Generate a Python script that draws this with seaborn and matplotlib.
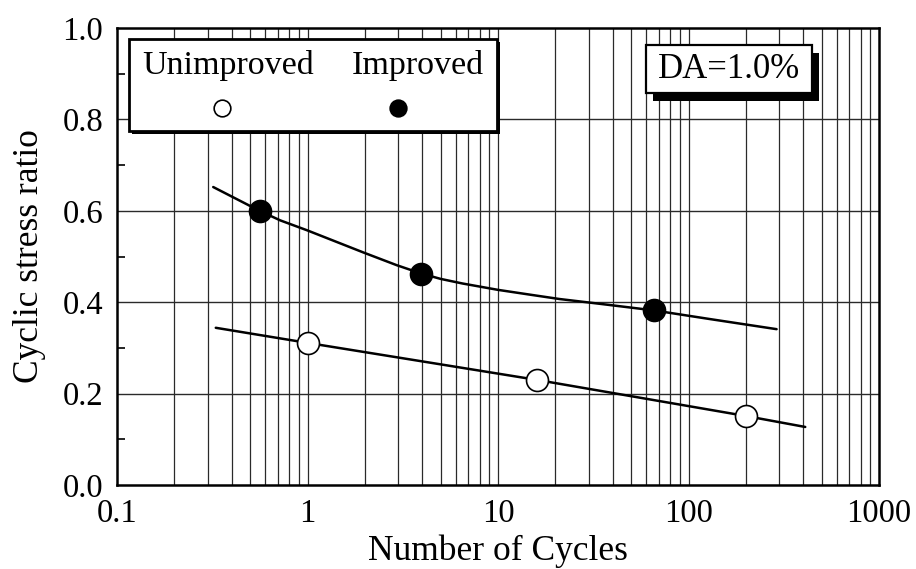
import matplotlib
matplotlib.use("Agg")
import matplotlib.pyplot as plt
from matplotlib.patches import Rectangle
import numpy as np
import pandas as pd
import seaborn as sns

# ---- data ----
imp_cycles = [0.56, 3.94, 66]
imp_csr = [0.600, 0.462, 0.383]
unimp_cycles = [1.0, 16, 200]
unimp_csr = [0.311, 0.230, 0.151]

# fitted curves as drawn in the reference (read at several points)
imp_curve_x = [0.32, 0.56, 0.72, 1.0, 1.4, 1.96, 2.94, 3.94, 5.0, 6.5, 10, 15, 21, 35, 66, 130, 290]
imp_curve_y = [0.652, 0.600, 0.579, 0.557, 0.533, 0.509, 0.481, 0.463, 0.451, 0.441, 0.427,
               0.416, 0.407, 0.396, 0.382, 0.363, 0.341]
unimp_curve_x = [0.33, 1.0, 16, 200, 410]
unimp_curve_y = [0.344, 0.311, 0.230, 0.151, 0.127]

x_ticks = [0.1, 1, 10, 100, 1000]
x_ticklabels = ["0.1", "1", "10", "100", "1000"]
y_ticks = [0.0, 0.2, 0.4, 0.6, 0.8, 1.0]
y_ticklabels = ["0.0", "0.2", "0.4", "0.6", "0.8", "1.0"]

sns.set_style("white")
plt.rcParams["font.family"] = ["Liberation Serif", "DejaVu Serif"]
plt.rcParams["text.color"] = "black"
plt.rcParams["axes.labelcolor"] = "black"
plt.rcParams["xtick.color"] = "black"
plt.rcParams["ytick.color"] = "black"

fig = plt.figure(figsize=(9.16, 5.69), dpi=100)
ax = fig.add_axes([117 / 916, 1 - 485 / 569, 762 / 916, 457 / 569])

ax.set_xscale("log")
ax.set_xlim(0.1, 1000)
ax.set_ylim(0.0, 1.0)

# grid
for dec in [0.1, 1, 10, 100]:
    for m in range(1, 10):
        v = dec * m
        if 0.1 < v < 1000:
            ax.axvline(v, color="#2a2a2a", lw=0.9, zorder=0)
for yv in [0.2, 0.4, 0.6, 0.8]:
    ax.axhline(yv, color="#2a2a2a", lw=1.0, zorder=0)

# curves
df_imp_c = pd.DataFrame({"N": imp_curve_x, "CSR": imp_curve_y})
df_un_c = pd.DataFrame({"N": unimp_curve_x, "CSR": unimp_curve_y})
sns.lineplot(data=df_imp_c, x="N", y="CSR", ax=ax, color="black", lw=1.8, sort=True, zorder=3)
sns.lineplot(data=df_un_c, x="N", y="CSR", ax=ax, color="black", lw=1.8, sort=True, zorder=3)

# points
df_imp = pd.DataFrame({"N": imp_cycles, "CSR": imp_csr})
df_un = pd.DataFrame({"N": unimp_cycles, "CSR": unimp_csr})
sns.scatterplot(data=df_imp, x="N", y="CSR", ax=ax, color="black", edgecolor="black",
                s=250, linewidth=1.2, zorder=5)
sns.scatterplot(data=df_un, x="N", y="CSR", ax=ax, color="white", edgecolor="black",
                s=250, linewidth=1.2, zorder=5)

# ticks
ax.set_xticks(x_ticks)
ax.set_xticklabels(x_ticklabels)
ax.set_yticks(y_ticks)
ax.set_yticklabels(y_ticklabels)
ax.set_yticks([0.1, 0.3, 0.5, 0.7, 0.9], minor=True)
ax.xaxis.set_minor_locator(matplotlib.ticker.NullLocator())
ax.tick_params(axis="both", which="major", labelsize=23.5, direction="in", length=6, width=1.2,
               colors="black", labelcolor="black")
ax.tick_params(axis="y", which="major", pad=10)
ax.tick_params(axis="y", which="minor", direction="in", length=6, width=1.2, left=True)
ax.tick_params(axis="x", which="major", length=0, pad=10)
for s in ax.spines.values():
    s.set_color("black")
    s.set_linewidth(1.8)

ax.set_xlabel("Number of Cycles", fontsize=25.5, labelpad=4, color="black")
ax.set_ylabel("Cyclic stress ratio", fontsize=25.5, labelpad=12, color="black")

# legend box (custom, labels above markers)
ax.add_patch(Rectangle((0.0157 + 0.004, 0.7746 - 0.007), 0.4830, 0.2014, transform=ax.transAxes,
                       facecolor="black", edgecolor="black", lw=0, zorder=6))
ax.add_patch(Rectangle((0.0157, 0.7746), 0.4830, 0.2014, transform=ax.transAxes,
                       facecolor="white", edgecolor="black", lw=2.0, zorder=7))
ax.text(0.146, 0.918, "Unimproved", transform=ax.transAxes, ha="center", va="center",
        fontsize=24.5, zorder=8, color="black")
ax.text(0.395, 0.918, "Improved", transform=ax.transAxes, ha="center", va="center",
        fontsize=24.5, zorder=8, color="black")
ax.plot([0.138], [0.825], transform=ax.transAxes, marker="o", ms=12, mfc="white",
        mec="black", mew=1.2, zorder=8, clip_on=False)
ax.plot([0.369], [0.825], transform=ax.transAxes, marker="o", ms=12, mfc="black",
        mec="black", mew=1.2, zorder=8, clip_on=False)

# DA box with shadow
ax.add_patch(Rectangle((0.694 + 0.009, 0.858 - 0.017), 0.218, 0.105, transform=ax.transAxes,
                       facecolor="black", edgecolor="black", lw=0, zorder=6))
ax.add_patch(Rectangle((0.694, 0.858), 0.218, 0.105, transform=ax.transAxes,
                       facecolor="white", edgecolor="black", lw=1.6, zorder=7))
ax.text(0.803, 0.910, "DA=1.0%", transform=ax.transAxes, ha="center", va="center",
        fontsize=25, zorder=8, color="black")

fig.savefig("out.png", dpi=100)
